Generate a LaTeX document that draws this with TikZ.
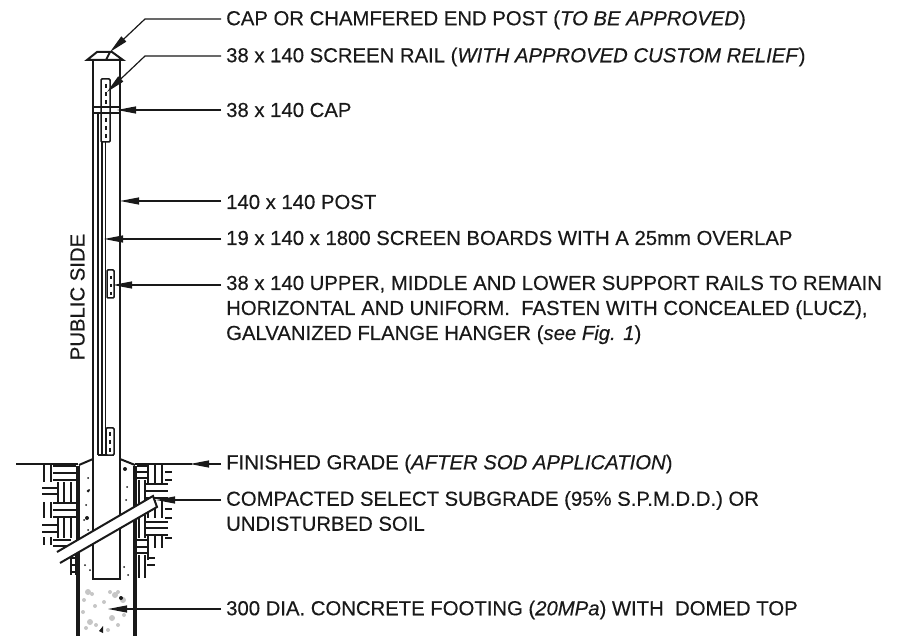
\documentclass[tikz,border=0pt]{standalone}
\usepackage{fontspec}
\setmainfont{Liberation Sans}[RawFeature={embolden=0.35}]
\usetikzlibrary{arrows.meta,calc}
\definecolor{inkgray}{gray}{0.1}
\tikzset{
  leader/.style={line width=1.2pt,draw=inkgray,-{Stealth[length=19pt,width=7pt,inset=0pt]}},
  lbl/.style={anchor=west,align=left,inner xsep=5pt,inner ysep=0pt,font=\fontsize{20.3}{25}\selectfont,text=inkgray},
  wall/.style={line width=2pt,draw=inkgray},
  soil/.style={line width=1.8pt,draw=inkgray},
  board/.style={line width=2pt,draw=inkgray},
  footwall/.style={line width=3.5pt,draw=inkgray}
}
\newcommand{\soilh}[3]{\foreach \yy in {#3}{\draw[soil] (#1,\yy) -- +(#2,0);}}
\newcommand{\soilv}[3]{\foreach \xx in {#3}{\draw[soil] (\xx,#1) -- +(0,#2);}}
\begin{document}
\begin{tikzpicture}[x=1pt,y=-1pt]
\useasboundingbox (0,0) rectangle (903,636);
% soil, left of footing
\soilh{53}{23}{466,473,480}
\soilh{42}{15}{488,494}
\soilh{53}{23}{503,510,517}
\soilh{42}{15}{525,532}
\soilh{53}{18}{540,546}
\soilv{465}{17}{44,51}
\soilv{482}{20}{58,64,71}
\soilv{502}{16}{44,51}
\soilv{517}{21}{58,64,71}
\soilv{537}{8}{44,51}
\soilv{555}{20}{71,76}
\soilh{70}{7}{558,565,572}
% soil, right of footing
\soilh{137}{11}{466,472,478}
\soilh{165}{7}{472,480,509,518,538}
\soilh{145}{23}{484,491,498}
\soilh{145}{23}{522,528,535}
\soilh{137}{10}{540,547,553}
\soilh{147}{8}{558,565}
\soilv{465}{18}{148,155,162}
\soilv{480}{30}{139,145}
\soilv{500}{18}{148,155,162}
\soilv{515}{23}{139,145}
\soilv{535}{13}{148,155,162}
\soilv{555}{23}{139,145}
\soilv{548}{12}{148}
% ground line
\draw[soil,line width=1.2pt] (16,464) -- (78,464);
\draw[soil,line width=1.2pt] (135,464) -- (192,464);
% footing
\draw[footwall] (78,466) -- (78,636);
\draw[footwall] (135,466) -- (135,636);
\draw[wall] (79,465) -- (93,459);
\draw[wall] (120,459) -- (135,465);
\foreach \x/\y/\r in {125/469/2, 127/487/1, 126/500/1, 88/478/1, 89/490/1, 88/491/1.5, 86/505/1, 84/520/1, 87/518/2, 88/530/1, 85/565/1, 90/570/1, 124/567/1, 128/575/1}
  \fill[inkgray] (\x,\y) circle (\r pt);
\foreach \x/\y/\r in {88/592/3, 92/594/2, 110/592/2, 115/595/3, 123/600/3, 118/592/2, 84/600/2, 95/606/2, 104/602/2, 90/622/3, 96/625/2, 112/618/3, 118/625/2, 108/630/2, 86/628/2, 124/615/2, 83/612/2}
  \fill[gray!45] (\x,\y) circle (\r pt);
\fill[inkgray] (99,631) -- (103,626) -- (103,633) -- cycle;
\fill[inkgray] (121,598) circle (2pt);
% post
\draw[wall,fill=white] (93,60) -- (93,579) -- (120,579) -- (120,60);
\draw[wall,fill=white] (87,60) -- (97,52) -- (112,52) -- (123,60) -- cycle;
\draw[wall] (110,52) -- (106,60);
% screen boards
\foreach \x in {97.5,102}
  \draw[board] (\x,113) -- (\x,455);
\draw[board,line width=1pt] (105,113) -- (105,455);
\draw[board] (97.5,455) -- (114,455);
% rails
\draw[board,line width=1.5pt,fill=white,rounded corners=1pt] (101,79) rectangle (110,142);
\draw[board,line width=1.5pt,fill=white,rounded corners=1pt] (107,270) rectangle (114,298);
\draw[board,line width=1.5pt,fill=white,rounded corners=1pt] (106,428) rectangle (114,455);
\foreach \y in {84,92,100,118,126,134}
  \draw[board] (105.5,\y) -- (105.5,\y+4);
\foreach \y in {276,284,292}
  \draw[board] (110.5,\y) -- (110.5,\y+3);
\foreach \y in {432,440,448}
  \draw[board] (110,\y) -- (110,\y+4);
\draw[wall] (93,107) -- (120,107) (93,113) -- (120,113);
% diagonal brace
\fill[white] (57,552) -- (153,496) -- (157,507) -- (60,563) -- cycle;
\draw[wall] (57,552) -- (153,496) -- (157,507) -- (60,563);
% labels
\node[lbl] (lblCapEnd) at (221,20) {CAP OR CHAMFERED END POST (\textit{TO BE APPROVED})};
\node[lbl] (lblScreenRail) at (221,57) {38 x 140 SCREEN RAIL (\textit{WITH APPROVED CUSTOM RELIEF})};
\node[lbl] (lblCap) at (221,110) {38 x 140 CAP};
\node[lbl] (lblPost) at (221,202) {140 x 140 POST};
\node[lbl] (lblBoards) at (221,238) {19 x 140 x 1800 SCREEN BOARDS WITH A 25mm OVERLAP};
\node[lbl] (lblSupport) at (221,310) {38 x 140 UPPER, MIDDLE AND LOWER SUPPORT RAILS TO REMAIN\\HORIZONTAL AND UNIFORM.\ \ FASTEN WITH CONCEALED (LUCZ),\\GALVANIZED FLANGE HANGER (\textit{see Fig. 1})};
\node[lbl] (lblGrade) at (221,464) {FINISHED GRADE (\textit{AFTER SOD APPLICATION})};
\node[lbl] (lblSoil) at (221,511) {COMPACTED SELECT SUBGRADE (95\% S.P.M.D.D.) OR\\UNDISTURBED SOIL};
\node[lbl] (lblFooting) at (221,610) {300 DIA. CONCRETE FOOTING (\textit{20MPa}) WITH\ \ DOMED TOP};
\node[lbl,inner xsep=0pt,anchor=center,rotate=90] (lblPublic) at (77.5,297) {PUBLIC SIDE};
% leaders
\coordinate (capTip) at (110,52);
\coordinate (railTip) at (107,92);
\coordinate (barTip) at (117,110);
\coordinate (postTip) at (120,201);
\coordinate (boardTip) at (104,239);
\coordinate (supportTip) at (113,285);
\coordinate (gradeTip) at (190,464);
\coordinate (soilTip) at (156,500);
\coordinate (footTip) at (108,609);
\draw[leader] (lblCapEnd.west |- 0,19) -- (145,19) -- (capTip);
\draw[leader] (lblScreenRail.west |- 0,56) -- (145,56) -- (railTip);
\draw[leader] (lblCap.west) -- (barTip);
\draw[leader] (lblPost.west |- postTip) -- (postTip);
\draw[leader] (lblBoards.west |- boardTip) -- (boardTip);
\draw[leader] (lblSupport.west |- supportTip) -- (supportTip);
\draw[leader] (lblGrade.west) -- (gradeTip);
\draw[leader] (lblSoil.west |- soilTip) -- (soilTip);
\draw[leader] (lblFooting.west |- footTip) -- (footTip);
\end{tikzpicture}
\end{document}
